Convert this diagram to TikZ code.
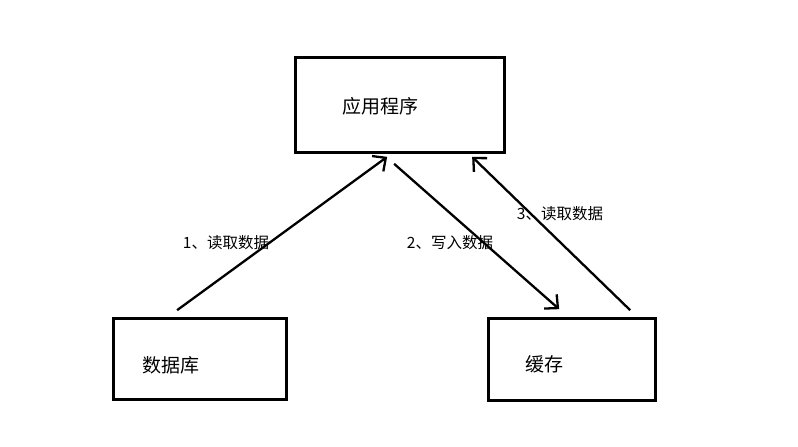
\documentclass[tikz,border=0pt]{standalone}
\usepackage{fontspec}
\setmainfont{Noto Sans CJK SC}
\usetikzlibrary{arrows.meta}
\begin{document}
\begin{tikzpicture}[x=1pt,y=-1pt,
  box/.style={draw=black,line width=3.2pt,minimum width=#1,inner sep=0pt},
  boxtext/.style={font=\fontsize{19}{19}\selectfont,anchor=center,inner sep=0pt},
  lbl/.style={font=\fontsize{15.5}{15.5}\selectfont,anchor=center,inner sep=0pt},
  conn/.style={draw=black,line width=2.3pt,-{Straight Barb[length=10pt,width=19pt,line width=2.3pt]}}]
\useasboundingbox (0,0) rectangle (798,447);
\fill[white] (0,0) rectangle (798,447);
% boxes
\node[box=208.5pt,minimum height=94.5pt] (app) at (400,105) {};
\node[box=172.5pt,minimum height=80.5pt] (db) at (200,359) {};
\node[box=166.5pt,minimum height=81.5pt] (cache) at (572,359.5) {};
% box texts
\node[boxtext] (apptext) at (380,106) {应用程序};
\node[boxtext] (dbtext) at (171,365) {数据库};
\node[boxtext] (cachetext) at (544,364) {缓存};
% connector ends
\coordinate (a1s) at ([xshift=65pt,yshift=7pt]db.north west);
\coordinate (a1e) at ([xshift=93pt,yshift=-3pt]app.south west);
\coordinate (a2s) at ([xshift=100pt,yshift=-10pt]app.south west);
\coordinate (a2e) at ([xshift=72pt,yshift=8pt]cache.north west);
\coordinate (a3s) at ([xshift=143pt,yshift=7pt]cache.north west);
\coordinate (a3e) at ([xshift=178pt,yshift=-3pt]app.south west);
\draw[conn] (a1s) -- (a1e);
\draw[conn] (a2s) -- (a2e);
\draw[conn] (a3s) -- (a3e);
% labels
\node[lbl] (l1) at (226,243) {1、读取数据};
\node[lbl] (l2) at (450,243) {2、写入数据};
\node[lbl] (l3) at (560,214) {3、读取数据};
\end{tikzpicture}
\end{document}
